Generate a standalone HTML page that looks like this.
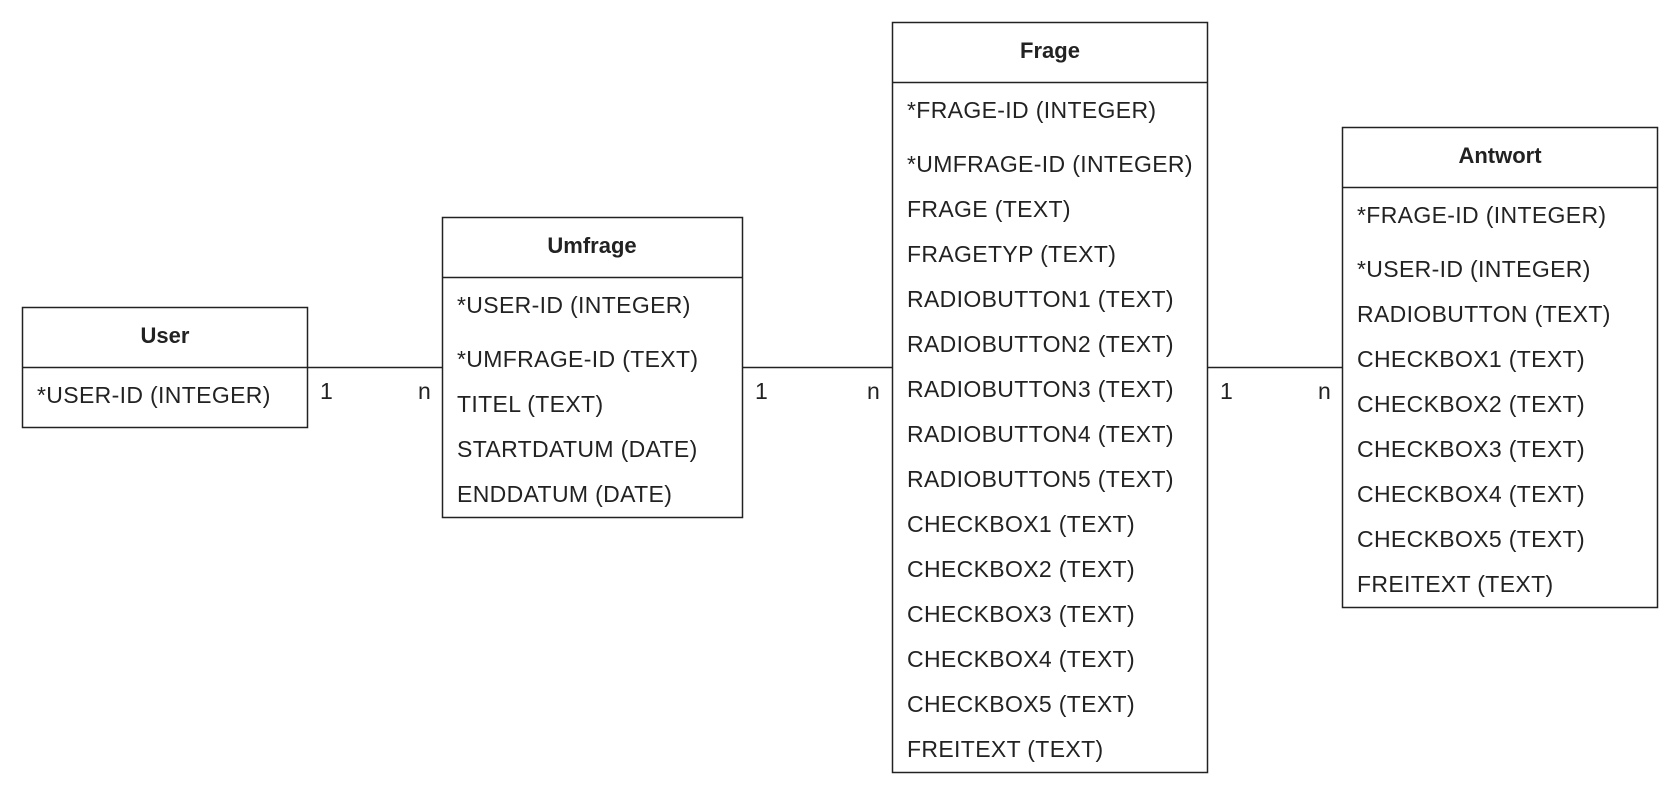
<!DOCTYPE html>
<html><head><meta charset="utf-8"><style>
html,body{margin:0;padding:0;background:#fff;width:1680px;height:795px;overflow:hidden}
svg{display:block}
text{font-family:"Liberation Sans",Arial,sans-serif;fill:#222}
.h{font-weight:bold;font-size:22px;text-anchor:middle}
.r{font-size:23px;letter-spacing:0.35px}
</style></head><body>
<svg width="1680" height="795" viewBox="0 0 1680 795">
<g fill="none" stroke="#222" stroke-width="1.5">
<rect x="22.5" y="307.5" width="285" height="120"/><line x1="22.5" y1="367.5" x2="307.5" y2="367.5"/>
<rect x="442.5" y="217.5" width="300" height="300"/><line x1="442.5" y1="277.5" x2="742.5" y2="277.5"/>
<rect x="892.5" y="22.5" width="315" height="750"/><line x1="892.5" y1="82.5" x2="1207.5" y2="82.5"/>
<rect x="1342.5" y="127.5" width="315" height="480"/><line x1="1342.5" y1="187.5" x2="1657.5" y2="187.5"/>
<line x1="307.5" y1="367.5" x2="442.5" y2="367.5"/>
<line x1="742.5" y1="367.5" x2="892.5" y2="367.5"/>
<line x1="1207.5" y1="367.5" x2="1342.5" y2="367.5"/>
</g>
<text class="h" x="165" y="343">User</text>
<text class="r" x="37" y="403">*USER-ID (INTEGER)</text>
<text class="r" x="320" y="399">1</text><text class="r" x="418" y="399">n</text>
<text class="r" x="755" y="399">1</text><text class="r" x="867" y="399">n</text>
<text class="r" x="1220" y="399">1</text><text class="r" x="1318" y="399">n</text>

<text class="h" x="592" y="253">Umfrage</text>
<text class="r" x="457" y="313">*USER-ID (INTEGER)</text>
<text class="r" x="457" y="367">*UMFRAGE-ID (TEXT)</text>
<text class="r" x="457" y="412">TITEL (TEXT)</text>
<text class="r" x="457" y="457">STARTDATUM (DATE)</text>
<text class="r" x="457" y="502">ENDDATUM (DATE)</text>

<text class="h" x="1050" y="58">Frage</text>
<text class="r" x="907" y="118">*FRAGE-ID (INTEGER)</text>
<text class="r" x="907" y="172">*UMFRAGE-ID (INTEGER)</text>
<text class="r" x="907" y="217">FRAGE (TEXT)</text>
<text class="r" x="907" y="262">FRAGETYP (TEXT)</text>
<text class="r" x="907" y="307">RADIOBUTTON1 (TEXT)</text>
<text class="r" x="907" y="352">RADIOBUTTON2 (TEXT)</text>
<text class="r" x="907" y="397">RADIOBUTTON3 (TEXT)</text>
<text class="r" x="907" y="442">RADIOBUTTON4 (TEXT)</text>
<text class="r" x="907" y="487">RADIOBUTTON5 (TEXT)</text>
<text class="r" x="907" y="532">CHECKBOX1 (TEXT)</text>
<text class="r" x="907" y="577">CHECKBOX2 (TEXT)</text>
<text class="r" x="907" y="622">CHECKBOX3 (TEXT)</text>
<text class="r" x="907" y="667">CHECKBOX4 (TEXT)</text>
<text class="r" x="907" y="712">CHECKBOX5 (TEXT)</text>
<text class="r" x="907" y="757">FREITEXT (TEXT)</text>

<text class="h" x="1500" y="163">Antwort</text>
<text class="r" x="1357" y="223">*FRAGE-ID (INTEGER)</text>
<text class="r" x="1357" y="277">*USER-ID (INTEGER)</text>
<text class="r" x="1357" y="322">RADIOBUTTON (TEXT)</text>
<text class="r" x="1357" y="367">CHECKBOX1 (TEXT)</text>
<text class="r" x="1357" y="412">CHECKBOX2 (TEXT)</text>
<text class="r" x="1357" y="457">CHECKBOX3 (TEXT)</text>
<text class="r" x="1357" y="502">CHECKBOX4 (TEXT)</text>
<text class="r" x="1357" y="547">CHECKBOX5 (TEXT)</text>
<text class="r" x="1357" y="592">FREITEXT (TEXT)</text>
</svg>
</body></html>
